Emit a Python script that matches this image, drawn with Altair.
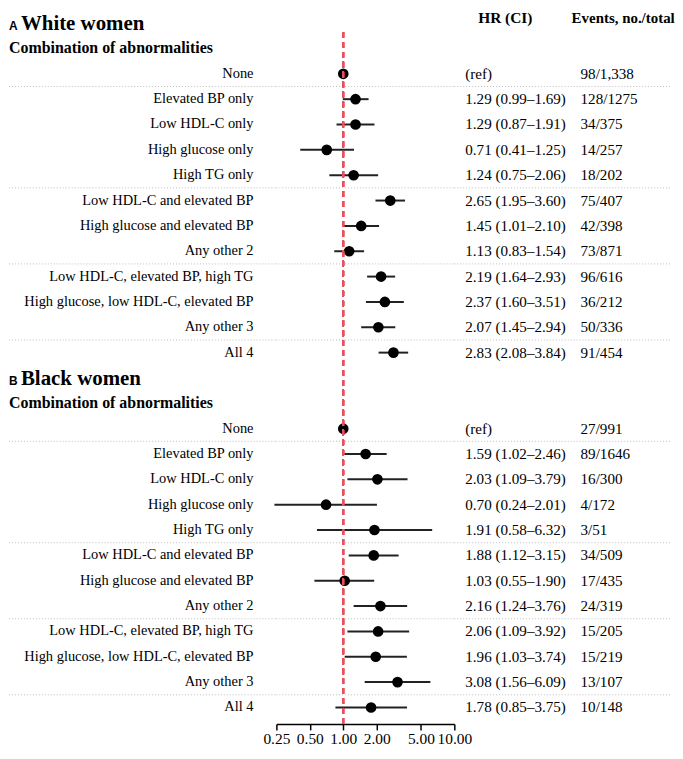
import altair as alt
import pandas as pd

# ---------------- data ----------------
labels = [
    "None", "Elevated BP only", "Low HDL-C only", "High glucose only", "High TG only",
    "Low HDL-C and elevated BP", "High glucose and elevated BP", "Any other 2",
    "Low HDL-C, elevated BP, high TG", "High glucose, low HDL-C, elevated BP",
    "Any other 3", "All 4",
]
group_sizes = [1, 4, 3, 3, 1]

white_hr = [1.00, 1.29, 1.29, 0.71, 1.24, 2.65, 1.45, 1.13, 2.19, 2.37, 2.07, 2.83]
white_lo = [None, 0.99, 0.87, 0.41, 0.75, 1.95, 1.01, 0.83, 1.64, 1.60, 1.45, 2.08]
white_hi = [None, 1.69, 1.91, 1.25, 2.06, 3.60, 2.10, 1.54, 2.93, 3.51, 2.94, 3.84]
white_events = ["98/1,338", "128/1275", "34/375", "14/257", "18/202", "75/407",
                "42/398", "73/871", "96/616", "36/212", "50/336", "91/454"]

black_hr = [1.00, 1.59, 2.03, 0.70, 1.91, 1.88, 1.03, 2.16, 2.06, 1.96, 3.08, 1.78]
black_lo = [None, 1.02, 1.09, 0.24, 0.58, 1.12, 0.55, 1.24, 1.09, 1.03, 1.56, 0.85]
black_hi = [None, 2.46, 3.79, 2.01, 6.32, 3.15, 1.90, 3.76, 3.92, 3.74, 6.09, 3.75]
black_events = ["27/991", "89/1646", "16/300", "4/172", "3/51", "34/509",
                "17/435", "24/319", "15/205", "15/219", "13/107", "10/148"]

panel_letters = ["A", "B"]
panel_names = ["White women", "Black women"]
subtitle = "Combination of abnormalities"
col_headers = ["HR (CI)", "Events, no./total"]
tick_values = [0.25, 0.5, 1, 2, 5, 10]

# ---------------- tables ----------------
panels = [
    (white_hr, white_lo, white_hi, white_events),
    (black_hr, black_lo, black_hi, black_events),
]
rows, titles, seps = [], [], []
for p, (hr, lo, hi, ev) in enumerate(panels):
    base = 14 * p
    titles.append({"y": base, "letter": panel_letters[p], "name": panel_names[p], "sub": subtitle})
    for k, lab in enumerate(labels):
        txt = "(ref)" if lo[k] is None else f"{hr[k]:.2f} ({lo[k]:.2f}\u2013{hi[k]:.2f})"
        rows.append({"y": base + 2 + k, "label": lab, "hr": hr[k], "lo": lo[k],
                     "hi": hi[k], "hr_text": txt, "events": ev[k]})
    pos = 0
    for g in group_sizes[:-1]:
        pos += g
        seps.append({"y": base + 2 + pos - 0.5})

rows = pd.DataFrame(rows)
titles = pd.DataFrame(titles)
titles["y_sub"] = titles["y"] + 1
seps = pd.DataFrame(seps)
ci = rows.dropna(subset=["lo"])
head_hr = pd.DataFrame({"y": [-0.2], "text": [col_headers[0]]})
head_ev = pd.DataFrame({"y": [-0.2], "text": [col_headers[1]]})

Y_DOM = [-0.51, 27.65]
YS = alt.Scale(domain=Y_DOM, reverse=True, nice=False, zero=False)
H = 718
WL, WM, WR = 269, 179, 219
SERIF = "Liberation Serif"


def yenc(field="y"):
    return alt.Y(f"{field}:Q", scale=YS, axis=None)


def sep_layer(w):
    return alt.Chart(seps).mark_rule(color="#bdbdbd", strokeDash=[1, 2], strokeWidth=1).encode(
        x=alt.value(0), x2=alt.value(w), y=yenc())


# ---------------- left panel ----------------
lab_layer = alt.Chart(rows).mark_text(align="right", baseline="middle", font=SERIF,
                                      fontSize=14.5, color="black").encode(
    x=alt.value(246), y=yenc(), text="label:N")
letter_layer = alt.Chart(titles).mark_text(align="left", baseline="alphabetic", font="Liberation Sans",
                                           fontWeight="bold", fontSize=12, dy=7, color="black").encode(
    x=alt.value(0), y=yenc(), text="letter:N")
name_layer = alt.Chart(titles).mark_text(align="left", baseline="alphabetic", font=SERIF,
                                         fontWeight="bold", fontSize=21, dy=7, color="black").encode(
    x=alt.value(12), y=yenc(), text="name:N")
sub_layer = alt.Chart(titles).mark_text(align="left", baseline="middle", font=SERIF,
                                        fontWeight="bold", fontSize=16, color="black").encode(
    x=alt.value(0), y=yenc("y_sub"), text="sub:N")
left = alt.layer(sep_layer(WL), lab_layer, letter_layer, name_layer, sub_layer).properties(
    width=WL, height=H)

# ---------------- middle panel ----------------
XS = alt.Scale(type="log", domain=[0.25, 10], nice=False)
XAX = alt.Axis(values=tick_values, format=".2f", title=None, grid=False, labelFont=SERIF,
               labelFontSize=15.5, labelColor="black", domainColor="black", tickColor="black",
               tickSize=6, domainWidth=1.5, tickWidth=1.5, labelPadding=2, labelFlush=False,
               labelOverlap=False)


def xenc(field):
    return alt.X(f"{field}:Q", scale=XS, axis=XAX)


ci_layer = alt.Chart(ci).mark_rule(color="#222222", strokeWidth=2).encode(
    x=xenc("lo"), x2="hi:Q", y=yenc())
pt_layer = alt.Chart(rows).mark_circle(size=115, color="black", opacity=1).encode(
    x=xenc("hr"), y=yenc())
ref_layer = alt.Chart(rows).mark_rule(color="#e5525c", strokeDash=[6, 4], strokeWidth=1.6).encode(
    x=alt.datum(1, scale=XS, axis=XAX), y=alt.datum(0.35, scale=YS, axis=None), y2=alt.datum(27.65))
mid = alt.layer(sep_layer(WM), ci_layer, pt_layer, ref_layer).properties(width=WM, height=H)

# ---------------- right panel ----------------
hr_layer = alt.Chart(rows).mark_text(align="left", baseline="middle", font=SERIF,
                                     fontSize=15.2, color="black").encode(
    x=alt.value(11), y=yenc(), text="hr_text:N")
ev_layer = alt.Chart(rows).mark_text(align="left", baseline="middle", font=SERIF,
                                     fontSize=15.2, color="black").encode(
    x=alt.value(127), y=yenc(), text="events:N")
head_hr_layer = alt.Chart(head_hr).mark_text(align="left", baseline="middle", font=SERIF,
                                             fontWeight="bold", fontSize=15.5, color="black").encode(
    x=alt.value(24), y=yenc(), text="text:N")
head_ev_layer = alt.Chart(head_ev).mark_text(align="left", baseline="middle", font=SERIF,
                                             fontWeight="bold", fontSize=15, color="black").encode(
    x=alt.value(118), y=yenc(), text="text:N")
right = alt.layer(sep_layer(WR), hr_layer, ev_layer, head_hr_layer, head_ev_layer).properties(
    width=WR, height=H)

chart = alt.hconcat(left, mid, right, spacing=0, bounds="flush").properties(
    padding=0, background="white").configure_view(stroke=None)

chart.save("out.html", embed_options={"renderer": "svg", "actions": False})
